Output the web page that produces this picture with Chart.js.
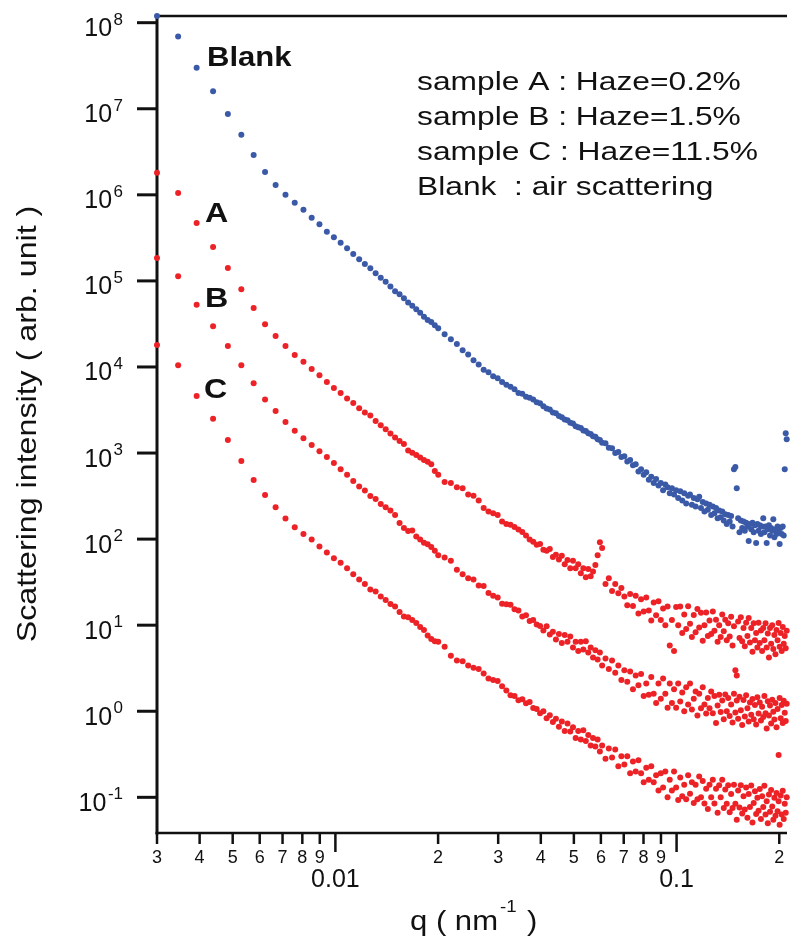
<!DOCTYPE html>
<html>
<head>
<meta charset="utf-8">
<script src="https://cdn.jsdelivr.net/npm/chart.js@4.4.1/dist/chart.umd.min.js"></script>
<style>
  html, body { margin: 0; padding: 0; background: #fff; }
  canvas { display: block; }
</style>
</head>
<body>
<canvas id="saxsChart" width="790" height="939"></canvas>
<script>
// scattering vector q (nm^-1)
const q = [
  0.00300, 0.00346, 0.00392, 0.00438, 0.00484, 0.00530, 0.00576, 0.00622, 0.00668, 0.00714,
  0.00760, 0.00806, 0.00852, 0.00898, 0.00944, 0.00990, 0.01036, 0.01082, 0.01128, 0.01174,
  0.01220, 0.01266, 0.01312, 0.01358, 0.01404, 0.01450, 0.01496, 0.01542, 0.01588, 0.01634,
  0.01680, 0.01726, 0.01772, 0.01818, 0.01864, 0.01910, 0.01956, 0.02002,
  0.0209, 0.0218, 0.0227, 0.0236, 0.0245, 0.0254, 0.0263, 0.0272, 0.0281, 0.0290,
  0.0299, 0.0308, 0.0317, 0.0326, 0.0335, 0.0344, 0.0353, 0.0362, 0.0371, 0.0380,
  0.0389, 0.0398, 0.0407, 0.0416, 0.0425, 0.0434, 0.0443, 0.0452, 0.0461, 0.0470,
  0.0479, 0.0488, 0.0497, 0.0506, 0.0515, 0.0524, 0.0533, 0.0542, 0.0551, 0.0560,
  0.0569, 0.0578, 0.0587, 0.0596, 0.0605,
  0.0619, 0.0633, 0.0647, 0.0661, 0.0675, 0.0689, 0.0703, 0.0717, 0.0731, 0.0745,
  0.0759, 0.0773, 0.0787, 0.0801, 0.0815, 0.0829, 0.0843, 0.0857, 0.0871, 0.0885,
  0.0899, 0.0913, 0.0927, 0.0941, 0.0955, 0.0969, 0.0983, 0.0997, 0.1011, 0.1025,
  0.1039, 0.1053, 0.1067, 0.1081, 0.1095, 0.1109, 0.1123, 0.1137, 0.1151, 0.1165,
  0.1179, 0.1193, 0.1207, 0.1221, 0.1235, 0.1249, 0.1263, 0.1277, 0.1291, 0.1305,
  0.1319, 0.1333, 0.1347, 0.1361, 0.1375, 0.1389, 0.1403, 0.1417, 0.1431, 0.1445,
  0.1459, 0.1473, 0.1487, 0.1501, 0.1515, 0.1529, 0.1543, 0.1557, 0.1571, 0.1585,
  0.1599, 0.1613, 0.1627, 0.1641, 0.1655, 0.1669, 0.1683, 0.1697, 0.1711, 0.1725,
  0.1739, 0.1753, 0.1767, 0.1781, 0.1795, 0.1809, 0.1823, 0.1837, 0.1851, 0.1865,
  0.1879, 0.1893, 0.1907, 0.1921, 0.1935, 0.1949, 0.1963, 0.1977, 0.1991, 0.2005,
  0.2019, 0.2033, 0.2047, 0.2061, 0.2075, 0.2089, 0.2103
];

// Blank : air scattering
const blank = [
  1.2e8, 6.9e7, 3.0e7, 1.6e7, 8.7e6, 5.0e6, 2.9e6, 1.84e6, 1.3e6, 1.0e6,
  8.1e5, 6.7e5, 5.4e5, 4.55e5, 3.73e5, 3.21e5, 2.78e5, 2.39e5, 2.06e5, 1.78e5,
  1.57e5, 1.40e5, 1.23e5, 1.09e5, 9.8e4, 8.6e4, 7.6e4, 7.0e4, 6.3e4, 5.6e4,
  5.15e4, 4.68e4, 4.27e4, 3.84e4, 3.52e4, 3.33e4, 3.06e4, 2.82e4,
  2.4e4, 2.1e4, 1.85e4, 1.56e4, 1.4e4, 1.2e4, 1.07e4, 9.3e3, 8.7e3, 7.8e3,
  7.4e3, 6.7e3, 6.2e3, 5.9e3, 5.5e3, 5.0e3, 4.9e3, 4.5e3, 4.4e3, 4.2e3,
  3.9e3, 3.8e3, 3.5e3, 3.3e3, 3.2e3, 2.95e3, 2.9e3, 2.7e3, 2.6e3, 2.45e3,
  2.4e3, 2.25e3, 2.2e3, 2.05e3, 2.0e3, 1.95e3, 1.83e3, 1.8e3, 1.7e3, 1.66e3,
  1.57e3, 1.55e3, 1.45e3, 1.42e3, 1.32e3,
  1300, 1150, 1140, 1000, 1030, 900, 920, 800, 830, 720,
  740, 610, 650, 560, 600, 490, 530, 450, 500, 420,
  450, 370, 430, 400, 340, 390, 330, 370, 300, 360,
  280, 340, 260, 320, 330, 250, 300, 240, 290, 310,
  230, 270, 210, 260, 220, 250, 190, 240, 200, 230,
  175, 215, 180, 210, 165, 195, 150, 190, 160, 185,
  140, 650, 690, 390, 175, 120, 165, 135, 160, 125,
  155, 140, 95, 150, 130, 155, 120, 145, 90, 150,
  125, 145, 115, 140, 175, 120, 140, 90, 130, 145,
  110, 135, 125, 170, 105, 130, 115, 140, 120, 88,
  135, 115, 140, 110, 650, 1700, 1450
];

// sample A : Haze=0.2%
const sampleA = [
  1.8e6, 1.05e6, 4.7e5, 2.47e5, 1.41e5, 8.0e4, 4.84e4, 3.13e4, 2.29e4, 1.75e4,
  1.38e4, 1.15e4, 9.5e3, 8.0e3, 6.7e3, 5.7e3, 5.0e3, 4.3e3, 3.81e3, 3.31e3,
  2.95e3, 2.73e3, 2.35e3, 2.11e3, 1.89e3, 1.69e3, 1.52e3, 1.38e3, 1.27e3, 1.07e3,
  1010, 950, 890, 830, 790, 740, 620, 560,
  460, 450, 400, 390, 330, 320, 280, 230, 210, 200,
  190, 160, 150, 147, 138, 129, 121, 110, 99, 93,
  86, 88, 75, 73, 77, 62, 66, 58, 64, 51,
  57, 46, 56, 46, 51, 40, 46, 36, 45, 37,
  42, 50, 65, 92, 79,
  30, 35, 25, 30, 23.5, 27, 21.5, 17, 23, 16.7,
  22, 13.7, 20, 14.4, 21, 14.8, 11.3, 18.3, 13, 19,
  11.5, 15.6, 10, 16.5, 5.8, 11.5, 5.0, 16.3, 10, 16.5,
  8.1, 13.3, 9.0, 16.6, 10.4, 7.3, 13.1, 8.3, 15.4, 9.4,
  13.9, 6.6, 10, 14, 7.5, 11.3, 7.9, 14.4, 8.6, 11.6,
  6.4, 10, 7.3, 13.3, 8.5, 11.6, 6.7, 10.5, 7.4, 12.5,
  5.8, 9.7, 3.0, 2.6, 11, 7.1, 12.4, 6.5, 9.3, 5.7,
  10.7, 7.5, 12.1, 6.3, 9.3, 4.9, 10.5, 6.7, 8.1, 5.5,
  10.7, 6.2, 8.7, 5.0, 9.3, 6.7, 10.5, 5.5, 8.0, 4.2,
  9.3, 6.1, 10, 5.3, 7.7, 4.6, 8.8, 6.7, 10.6, 5.6,
  8.1, 5.0, 9.5, 6.1, 7.5, 5.4, 8.6
];

// sample B : Haze=1.5%
const sampleB = [
  1.85e5, 1.13e5, 5.3e4, 2.97e4, 1.75e4, 1.05e4, 6.46e3, 4.2e3, 3.08e3, 2.3e3,
  1.82e3, 1.49e3, 1.24e3, 1.05e3, 900, 766, 650, 560, 473, 408,
  367, 317, 292, 256, 234, 215, 191, 154, 135, 124,
  126, 107, 99, 91, 87, 81, 73, 65,
  61, 56, 44, 39, 35, 34, 29, 28.5, 23.7, 22,
  21, 17.7, 17.5, 17.3, 15.3, 14.8, 12.6, 13, 11.2, 11.5,
  10.2, 9.8, 8.7, 9.7, 7.8, 8.4, 6.8, 7.9, 6.2, 7.7,
  6.4, 7.4, 5.5, 6.4, 5.0, 6.4, 5.2, 6.5, 4.8, 5.5,
  4.2, 5.1, 4.0, 4.8, 3.4,
  4.1, 3.1, 3.9, 2.8, 3.4, 2.3, 3.0, 2.2, 2.9, 1.8,
  2.6, 2.0, 2.7, 1.5, 2.1, 1.55, 2.5, 1.6, 1.25, 2.1,
  1.4, 2.4, 1.6, 1.1, 2.1, 1.25, 1.8, 1.1, 2.1, 1.3,
  1.65, 1.0, 1.9, 1.2, 2.1, 1.05, 1.4, 1.7, 0.89, 1.6,
  1.08, 1.9, 1.2, 0.94, 1.43, 1.08, 1.7, 0.95, 1.5, 0.73,
  1.17, 1.55, 0.98, 1.33, 0.81, 1.57, 1.0, 1.43, 0.88, 1.2,
  0.74, 1.6, 0.97, 1.33, 0.82, 1.47, 1.03, 0.69, 1.35, 0.87,
  1.53, 1.08, 0.76, 1.26, 0.91, 1.39, 0.81, 1.18, 0.7, 1.45,
  0.94, 1.26, 0.78, 1.13, 0.86, 1.5, 0.95, 0.63, 1.31, 0.89,
  1.17, 0.72, 1.36, 0.99, 0.8, 1.25, 0.65, 1.06, 0.31, 1.43,
  0.83, 1.18, 0.73, 1.32, 0.96, 0.77, 1.22
];

// sample C : Haze=11.5%
const sampleC = [
  1.8e4, 1.05e4, 4.6e3, 2.5e3, 1.42e3, 810, 487, 326, 234, 173,
  137, 115, 99, 82, 70, 60, 53, 46, 39, 34,
  30, 26, 24.6, 21.5, 19.6, 17.6, 16.5, 14.2, 12.6, 12.4,
  11.5, 10.6, 9.5, 8.8, 7.6, 6.9, 6.5, 6.4,
  5.6, 4.4, 3.9, 3.8, 3.4, 3.2, 3.1, 2.75, 2.4, 2.3,
  2.25, 1.95, 1.74, 1.53, 1.5, 1.34, 1.38, 1.24, 1.28, 1.09,
  1.06, 0.95, 1.0, 0.83, 0.9, 0.75, 0.82, 0.66, 0.76, 0.59,
  0.72, 0.58, 0.65, 0.49, 0.59, 0.47, 0.6, 0.45, 0.53, 0.4,
  0.49, 0.39, 0.47, 0.34, 0.4,
  0.28, 0.37, 0.29, 0.36, 0.23, 0.3, 0.24, 0.3, 0.19, 0.26,
  0.2, 0.27, 0.19, 0.15, 0.22, 0.16, 0.23, 0.15, 0.18, 0.12,
  0.19, 0.13, 0.2, 0.1, 0.16, 0.12, 0.2, 0.13, 0.093, 0.17,
  0.103, 0.14, 0.095, 0.18, 0.11, 0.15, 0.086, 0.14, 0.095, 0.175,
  0.1, 0.155, 0.085, 0.126, 0.073, 0.14, 0.1, 0.16, 0.085, 0.126,
  0.066, 0.138, 0.1, 0.16, 0.075, 0.123, 0.084, 0.138, 0.067, 0.109,
  0.075, 0.14, 0.084, 0.055, 0.12, 0.076, 0.138, 0.065, 0.103, 0.072,
  0.13, 0.058, 0.109, 0.077, 0.137, 0.051, 0.086, 0.118, 0.064, 0.099,
  0.07, 0.125, 0.056, 0.103, 0.077, 0.136, 0.063, 0.09, 0.05, 0.108,
  0.068, 0.122, 0.078, 0.055, 0.099, 0.061, 0.112, 0.069, 0.09, 0.048,
  0.105, 0.063, 0.119, 0.056, 0.084, 0.066, 0.1
];

// axis ticks
const yTicks = [1e-1, 1e0, 1e1, 1e2, 1e3, 1e4, 1e5, 1e6, 1e7, 1e8];
const yTickExp = ['-1', '0', '1', '2', '3', '4', '5', '6', '7', '8'];
const xMinorTicks = [0.003, 0.004, 0.005, 0.006, 0.007, 0.008, 0.009,
  0.02, 0.03, 0.04, 0.05, 0.06, 0.07, 0.08, 0.09, 0.2];
const xMinorLabels = ['3', '4', '5', '6', '7', '8', '9',
  '2', '3', '4', '5', '6', '7', '8', '9', '2'];
const xMajorTicks = [0.01, 0.1];
const xMajorLabels = ['0.01', '0.1'];

const notes = [
  'sample A : Haze=0.2%',
  'sample B : Haze=1.5%',
  'sample C : Haze=11.5%',
  'Blank  : air scattering'
];

const FONT = '"Liberation Sans", Arial, Helvetica, sans-serif';
const BLUE = '#3a5aa8';
const RED = '#ec2227';
const INK = '#111';

[blank, sampleA, sampleB, sampleC].forEach((s, i) => {
  if (s.length !== q.length) throw new Error('series ' + i + ' has ' + s.length + ' values, q has ' + q.length);
});

function toPoints(values) {
  return values.map((v, i) => ({ x: q[i], y: v }));
}

function wideText(ctx, text, x, y, size, opts) {
  opts = opts || {};
  ctx.save();
  ctx.font = (opts.bold ? 'bold ' : '') + size + 'px ' + FONT;
  ctx.textAlign = opts.align || 'left';
  ctx.textBaseline = 'alphabetic';
  ctx.translate(x, y);
  if (opts.rotate) ctx.rotate(opts.rotate);
  ctx.scale(opts.sx || 1, 1);
  ctx.fillText(text, 0, 0);
  ctx.restore();
}

function seg(ctx, x1, y1, x2, y2) {
  ctx.beginPath();
  ctx.moveTo(x1, y1);
  ctx.lineTo(x2, y2);
  ctx.stroke();
}

const framePlugin = {
  id: 'frame',
  beforeDatasetsDraw(chart) {
    const ctx = chart.ctx;
    const a = chart.chartArea;
    const xs = chart.scales.x, ys = chart.scales.y;
    ctx.save();
    ctx.strokeStyle = INK;
    ctx.lineWidth = 2.4;
    seg(ctx, a.left, a.top, a.right, a.top);
    ctx.lineWidth = 3;
    seg(ctx, a.left, a.top - 1.2, a.left, a.bottom + 1.3);
    ctx.lineWidth = 2.6;
    seg(ctx, a.left - 1.5, a.bottom, a.right, a.bottom);

    ctx.lineWidth = 3;
    yTicks.forEach(v => {
      const py = ys.getPixelForValue(v);
      seg(ctx, a.left - 20, py, a.left, py);
    });
    ctx.lineWidth = 2.5;
    xMinorTicks.forEach(v => {
      const px = xs.getPixelForValue(v);
      seg(ctx, px, a.bottom, px, a.bottom + 11);
    });
    xMajorTicks.forEach(v => {
      const px = xs.getPixelForValue(v);
      seg(ctx, px, a.bottom, px, a.bottom + 19);
    });
    ctx.restore();
  },
  afterDatasetsDraw(chart) {
    const ctx = chart.ctx;
    const a = chart.chartArea;
    const xs = chart.scales.x, ys = chart.scales.y;
    ctx.save();
    ctx.fillStyle = INK;

    // y tick labels 10^n
    ctx.textBaseline = 'alphabetic';
    ctx.textAlign = 'right';
    yTicks.forEach((v, i) => {
      const py = ys.getPixelForValue(v);
      ctx.font = '17px ' + FONT;
      ctx.fillText(yTickExp[i], 123, py + 2);
      const w = ctx.measureText(yTickExp[i]).width;
      ctx.font = '25px ' + FONT;
      ctx.fillText('10', 123 - w - 1.5, py + 13.5);
    });

    // x tick labels
    ctx.textAlign = 'center';
    ctx.font = '18px ' + FONT;
    xMinorTicks.forEach((v, i) => {
      ctx.fillText(xMinorLabels[i], xs.getPixelForValue(v), a.bottom + 30);
    });
    ctx.font = '25px ' + FONT;
    xMajorTicks.forEach((v, i) => {
      ctx.fillText(xMajorLabels[i], xs.getPixelForValue(v), a.bottom + 54);
    });

    // axis titles
    wideText(ctx, 'Scattering intensity ( arb. unit )', 36, 424, 28,
      { align: 'center', rotate: -Math.PI / 2, sx: 1.15 });
    wideText(ctx, 'q ( nm', 410, 930, 27, { sx: 1.15 });
    wideText(ctx, '-1', 500, 912, 17, { sx: 1.1 });
    wideText(ctx, ')', 527, 930, 27, { sx: 1.15 });

    // curve labels
    wideText(ctx, 'Blank', 207, 66, 27, { bold: true, sx: 1.15 });
    wideText(ctx, 'A', 205, 222, 28, { bold: true, sx: 1.15 });
    wideText(ctx, 'B', 205, 307, 28, { bold: true, sx: 1.15 });
    wideText(ctx, 'C', 204, 398, 28, { bold: true, sx: 1.15 });

    // sample notes
    notes.forEach((t, i) => wideText(ctx, t, 417, 90 + 35 * i, 25, { sx: 1.27 }));
    ctx.restore();
  }
};

const dot = { pointRadius: 3, pointHoverRadius: 3, pointBorderWidth: 0, clip: false, showLine: false };

new Chart(document.getElementById('saxsChart'), {
  type: 'scatter',
  data: {
    datasets: [
      Object.assign({ label: 'Blank', data: toPoints(blank), backgroundColor: BLUE, borderColor: BLUE }, dot),
      Object.assign({ label: 'A', data: toPoints(sampleA), backgroundColor: RED, borderColor: RED }, dot),
      Object.assign({ label: 'B', data: toPoints(sampleB), backgroundColor: RED, borderColor: RED }, dot),
      Object.assign({ label: 'C', data: toPoints(sampleC), backgroundColor: RED, borderColor: RED }, dot)
    ]
  },
  options: {
    responsive: false,
    devicePixelRatio: 1,
    animation: false,
    events: [],
    layout: { padding: { left: 157, top: 16, right: 0, bottom: 106 } },
    plugins: {
      legend: { display: false },
      tooltip: { enabled: false },
      title: { display: false }
    },
    scales: {
      x: { type: 'logarithmic', display: false, min: 0.003, max: 0.2107 },
      y: { type: 'logarithmic', display: false, min: 0.0385, max: 1.196e8 }
    }
  },
  plugins: [framePlugin]
});
</script>
</body>
</html>
